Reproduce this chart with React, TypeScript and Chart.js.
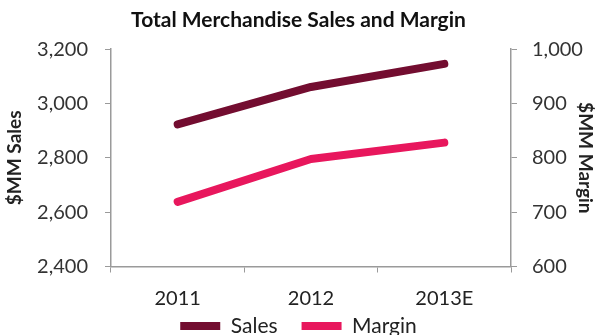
import React, { useEffect, useRef } from "react";
import { Chart, registerables } from "chart.js";

Chart.register(...registerables);

const categories = ["2011", "2012", "2013E"];
const salesValues = [2923, 3061, 3146];
const marginValues = [719, 798, 828];
const leftTicks = { min: 2400, max: 3200, step: 200 };
const rightTicks = { min: 600, max: 1000, step: 100 };

const FONT = "Lato, 'Open Sans', sans-serif";
const AXIS = "#9a9a9a";

export default function App() {
  const ref = useRef<HTMLCanvasElement | null>(null);
  useEffect(() => {
    if (!ref.current) return;
    const chart = new Chart(ref.current, {
      type: "line",
      data: {
        labels: categories,
        datasets: [
          {
            label: "Sales",
            data: salesValues,
            borderColor: "#730d30",
            backgroundColor: "#730d30",
            borderWidth: 8,
            borderCapStyle: "round",
            borderJoinStyle: "round",
            pointRadius: 0,
            pointStyle: "line",
            yAxisID: "y",
          },
          {
            label: "Margin",
            data: marginValues,
            borderColor: "#e8175d",
            backgroundColor: "#e8175d",
            borderWidth: 8,
            borderCapStyle: "round",
            borderJoinStyle: "round",
            pointRadius: 0,
            pointStyle: "line",
            yAxisID: "y1",
          },
        ],
      },
      options: {
        responsive: false,
        animation: false,
        layout: { padding: { left: 0, right: 0, top: 0, bottom: -11.5 } },
        plugins: {
          title: {
            display: true,
            text: "Total Merchandise Sales and Margin",
            color: "#111",
            font: { family: FONT, size: 21, weight: "bold" },
            padding: { top: 8, bottom: 16 },
          },
          legend: {
            position: "bottom",
            labels: {
              color: "#222",
              font: { family: FONT, size: 21 },
              usePointStyle: true,
              pointStyleWidth: 40,
              padding: 24,
            },
          },
          tooltip: { enabled: false },
        },
        scales: {
          x: {
            offset: true,
            grid: {
              offset: true,
              drawOnChartArea: false,
              drawTicks: true,
              tickLength: 6,
              color: AXIS,
            },
            border: { color: AXIS, width: 1.5 },
            ticks: {
              color: "#222",
              font: { family: FONT, size: 20 },
              mirror: true,
              padding: -44,
            },
            afterFit: (s: any) => {
              s.height = 25;
            },
          },
          y: {
            position: "left",
            min: leftTicks.min,
            max: leftTicks.max,
            ticks: {
              stepSize: leftTicks.step,
              color: "#333",
              font: { family: FONT, size: 20 },
              padding: 17,
            },
            grid: { drawOnChartArea: false, tickLength: 6, color: AXIS },
            border: { color: AXIS, width: 1.5 },
            title: {
              display: true,
              text: "$MM Sales",
              color: "#222",
              font: { family: FONT, size: 19, weight: "bold" },
              padding: 3,
            },
            afterFit: (s: any) => {
              s.width = 111;
            },
          },
          y1: {
            position: "right",
            min: rightTicks.min,
            max: rightTicks.max,
            ticks: {
              stepSize: rightTicks.step,
              color: "#333",
              font: { family: FONT, size: 20 },
              padding: 15,
            },
            grid: { drawOnChartArea: false, tickLength: 6, color: AXIS },
            border: { color: AXIS, width: 1.5 },
            title: {
              display: true,
              text: "$MM Margin",
              color: "#222",
              font: { family: FONT, size: 19, weight: "bold" },
              padding: 0,
            },
            afterFit: (s: any) => {
              s.width = 86;
            },
          },
        },
      },
    });
    return () => chart.destroy();
  }, []);
  return (
    <div style={{ position: "fixed", left: 0, top: 0, width: 597, height: 335, background: "#fff" }}>
      <canvas ref={ref} width={597} height={335} />
    </div>
  );
}
